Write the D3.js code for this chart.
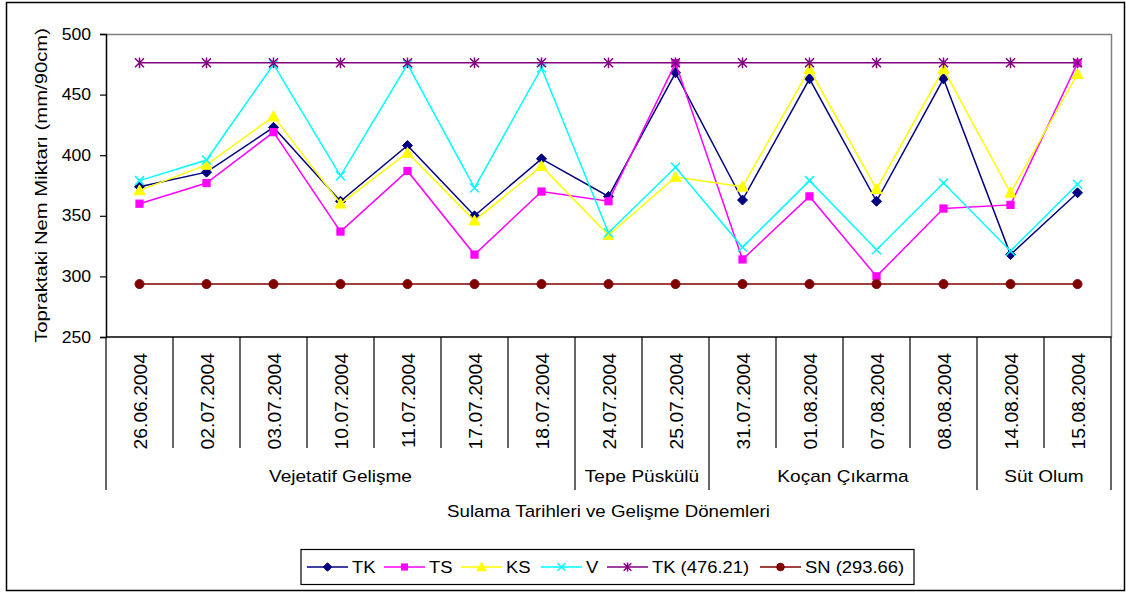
<!DOCTYPE html>
<html>
<head>
<meta charset="utf-8">
<script src="https://cdn.jsdelivr.net/npm/d3@7"></script>
<style>
  html, body { margin: 0; padding: 0; background: #fff; }
  svg text { font-family: "Liberation Sans", Arial, sans-serif; fill: #000; }
</style>
</head>
<body>
<svg id="chart" width="1126" height="594"></svg>
<script>
// Irrigation dates (category axis)
const categories = ["26.06.2004", "02.07.2004", "03.07.2004", "10.07.2004", "11.07.2004",
  "17.07.2004", "18.07.2004", "24.07.2004", "25.07.2004", "31.07.2004",
  "01.08.2004", "07.08.2004", "08.08.2004", "14.08.2004", "15.08.2004"];

// Growth stages and how many irrigation dates each spans
const stageNames = ["Vejetatif Gelişme", "Tepe Püskülü", "Koçan Çıkarma", "Süt Olum"];
const stageSizes = [7, 2, 4, 2];

// Soil moisture (mm/90cm) per treatment
const seriesNames = ["TK", "TS", "KS", "V", "TK (476.21)", "SN (293.66)"];
const valuesTK = [374, 386, 423, 362, 408, 350, 397, 366, 468, 363, 463, 362, 463, 318, 369];
const valuesTS = [360, 377, 419, 337, 387, 318, 370, 362, 476, 314, 366, 300, 356, 359, 476];
const valuesKS = [371, 392, 432, 360, 402, 346, 391, 334, 382, 374, 471, 372, 471, 369, 467];
const valuesV  = [379, 396, 475, 383, 475, 373, 472, 336, 390, 324, 379, 322, 377, 321, 376];
const fieldCapacity = 476.21;   // TK (476.21)
const wiltingPoint = 293.66;    // SN (293.66)

const yTicks = [250, 300, 350, 400, 450, 500];

const seriesValues = [
  valuesTK, valuesTS, valuesKS, valuesV,
  categories.map(() => fieldCapacity),
  categories.map(() => wiltingPoint)
];
const seriesColors = ["#000080", "#FF00FF", "#FFFF00", "#00FFFF", "#800080", "#800000"];
const seriesMarkers = ["diamond", "square", "triangle", "cross", "asterisk", "circle"];

const svg = d3.select("#chart");

// Horizontally widen text to the look of the original rendering
function stretch(sel, factor) {
  sel.each(function () {
    const w = this.getComputedTextLength();
    d3.select(this).attr("textLength", w * factor).attr("lengthAdjust", "spacingAndGlyphs");
  });
}

// Outer frame
svg.append("rect")
  .attr("x", 6.5).attr("y", 2.5).attr("width", 1118).attr("height", 588)
  .attr("fill", "#fff").attr("stroke", "#000").attr("stroke-width", 1.5);

const plot = { left: 106, right: 1111, top: 34, bottom: 337 };

const x = d3.scaleBand().domain(categories).range([plot.left, plot.right]).padding(0);
const y = d3.scaleLinear().domain([250, 500]).range([plot.bottom, plot.top]);
const cx = d => x(d) + x.bandwidth() / 2;

// Plot area border (top & right grey)
svg.append("path")
  .attr("d", `M${plot.left},${plot.top + 0.5}H${plot.right + 0.5}V${plot.bottom}`)
  .attr("fill", "none").attr("stroke", "#808080").attr("stroke-width", 1.5);

// Y axis
const yAxis = svg.append("g")
  .attr("transform", `translate(${plot.left},0)`)
  .call(d3.axisLeft(y).tickValues(yTicks).tickSize(6).tickPadding(9).tickFormat(d3.format("d")));
yAxis.select(".domain").attr("stroke", "#000").attr("stroke-width", 1.5);
yAxis.selectAll(".tick line").attr("stroke", "#000").attr("stroke-width", 1.2);
yAxis.selectAll(".tick text")
  .attr("font-size", 16).attr("font-family", "Liberation Sans, Arial, sans-serif").attr("fill", "#000")
  .call(stretch, 1.1);

// Bottom axis line and category separators
const xAxisLower = 448;
const stageLower = 490;
svg.append("line")
  .attr("x1", plot.left).attr("x2", plot.right + 0.5)
  .attr("y1", plot.bottom).attr("y2", plot.bottom)
  .attr("stroke", "#000").attr("stroke-width", 1.5);

// Stage boundaries (longer lines)
const stageBounds = [0];
stageSizes.forEach((s, i) => stageBounds.push(stageBounds[i] + s));
const boundaryIdx = new Set(stageBounds);

categories.forEach((c, i) => {
  if (i === 0) return;
  if (boundaryIdx.has(i)) return;
  svg.append("line")
    .attr("x1", x(c)).attr("x2", x(c))
    .attr("y1", plot.bottom).attr("y2", xAxisLower)
    .attr("stroke", "#000").attr("stroke-width", 1.2);
});
stageBounds.forEach(b => {
  const xp = b < categories.length ? x(categories[b]) : plot.right;
  svg.append("line")
    .attr("x1", xp).attr("x2", xp)
    .attr("y1", plot.bottom).attr("y2", stageLower)
    .attr("stroke", "#000").attr("stroke-width", 1.2);
});

// Category labels (rotated)
svg.append("g").selectAll("text")
  .data(categories)
  .join("text")
  .attr("transform", d => `translate(${cx(d) + 1.5},353) rotate(-90)`)
  .attr("text-anchor", "end")
  .attr("dy", "0.35em")
  .attr("font-size", 18)
  .text(d => d)
  .call(stretch, 1.07);

// Stage labels
svg.append("g").selectAll("text")
  .data(stageNames)
  .join("text")
  .attr("x", (d, i) => {
    const a = x(categories[stageBounds[i]]);
    const b = stageBounds[i + 1] < categories.length ? x(categories[stageBounds[i + 1]]) : plot.right;
    return (a + b) / 2;
  })
  .attr("y", 482)
  .attr("text-anchor", "middle")
  .attr("font-size", 17)
  .text(d => d)
  .call(stretch, 1.12);

// Axis titles
svg.append("text")
  .attr("x", (plot.left + plot.right) / 2).attr("y", 517)
  .attr("text-anchor", "middle").attr("font-size", 17)
  .text("Sulama Tarihleri ve Gelişme Dönemleri")
  .call(stretch, 1.1);

svg.append("text")
  .attr("transform", `translate(47,${(plot.top + plot.bottom) / 2}) rotate(-90)`)
  .attr("text-anchor", "middle").attr("font-size", 17)
  .text("Topraktaki Nem Miktarı (mm/90cm)")
  .call(stretch, 1.19);

// Marker shapes
function drawMarker(g, type, color, size) {
  const s = size;
  switch (type) {
    case "diamond":
      g.append("path").attr("d", `M0,${-s}L${s},0L0,${s}L${-s},0Z`).attr("fill", color).attr("stroke", color);
      break;
    case "square":
      g.append("rect").attr("x", -s * 0.8).attr("y", -s * 0.8).attr("width", s * 1.6).attr("height", s * 1.6)
        .attr("fill", color).attr("stroke", color);
      break;
    case "triangle":
      g.append("path").attr("d", `M0,${-s}L${s},${s * 0.8}L${-s},${s * 0.8}Z`).attr("fill", color).attr("stroke", color);
      break;
    case "cross":
      g.append("path").attr("d", `M${-s},${-s}L${s},${s}M${-s},${s}L${s},${-s}`)
        .attr("stroke", color).attr("stroke-width", 1.5).attr("fill", "none");
      break;
    case "asterisk":
      g.append("path").attr("d", `M${-s},${-s}L${s},${s}M${-s},${s}L${s},${-s}M0,${-s * 1.2}L0,${s * 1.2}`)
        .attr("stroke", color).attr("stroke-width", 1.5).attr("fill", "none");
      break;
    case "circle":
      g.append("circle").attr("r", s).attr("fill", color).attr("stroke", color);
      break;
  }
}
const markerSize = { diamond: 5, square: 4.5, triangle: 5.5, cross: 4.5, asterisk: 4.5, circle: 4.5 };

// Series lines and markers
const line = d3.line().x((d, i) => cx(categories[i])).y(d => y(d));
seriesValues.forEach((vals, si) => {
  const g = svg.append("g");
  g.append("path")
    .attr("d", line(vals))
    .attr("fill", "none")
    .attr("stroke", seriesColors[si])
    .attr("stroke-width", 1.5);
  vals.forEach((v, i) => {
    const m = g.append("g").attr("transform", `translate(${cx(categories[i])},${y(v)})`);
    drawMarker(m, seriesMarkers[si], seriesColors[si], markerSize[seriesMarkers[si]]);
  });
});

// Legend
const legend = svg.append("g");
legend.append("rect")
  .attr("x", 301).attr("y", 549.5).attr("width", 613).attr("height", 35)
  .attr("fill", "#fff").attr("stroke", "#000").attr("stroke-width", 1.2);
const legendLineStart = [307, 384, 461, 541, 607, 760];
const legendY = 567;
seriesNames.forEach((name, si) => {
  const x0 = legendLineStart[si];
  const item = legend.append("g");
  item.append("line")
    .attr("x1", x0).attr("x2", x0 + 41).attr("y1", legendY).attr("y2", legendY)
    .attr("stroke", seriesColors[si]).attr("stroke-width", 1.5);
  const m = item.append("g").attr("transform", `translate(${x0 + 20.5},${legendY})`);
  drawMarker(m, seriesMarkers[si], seriesColors[si], markerSize[seriesMarkers[si]] * 0.85);
  item.append("text")
    .attr("x", x0 + 45).attr("y", legendY).attr("dy", "0.36em")
    .attr("font-size", 16)
    .text(name)
    .call(stretch, 1.15);
});
</script>
</body>
</html>
